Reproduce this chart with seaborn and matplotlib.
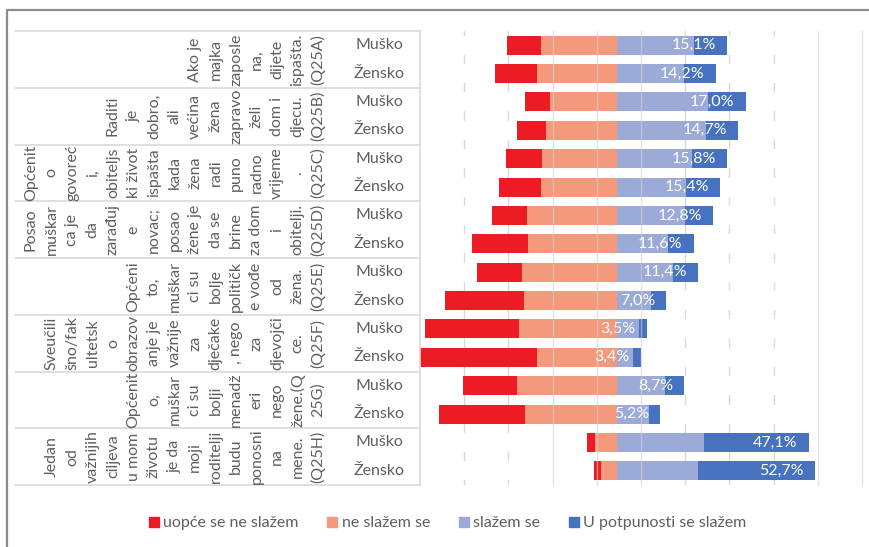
import numpy as np
import pandas as pd
import matplotlib
matplotlib.use("Agg")
import matplotlib.pyplot as plt
from matplotlib.lines import Line2D
import seaborn as sns

q_codes = ["Q25A", "Q25B", "Q25C", "Q25D", "Q25E", "Q25F", "Q25G", "Q25H"]
genders = ["Muško", "Žensko"]
q_lines = [
    ["Ako je", "majka", "zaposle", "na,", "dijete", "ispašta.", "(Q25A)"],
    ["Raditi", "je", "dobro,", "ali", "većina", "žena", "zapravo", "želi", "dom i", "djecu.", "(Q25B)"],
    ["Općenit", "o", "govoreć", "i,", "obiteljs", "ki život", "ispašta", "kada", "žena", "radi",
     "puno", "radno", "vrijeme", ".", "(Q25C)"],
    ["Posao", "muškar", "ca je", "da", "zarađuj", "e", "novac;", "posao", "žene je", "da se",
     "brine", "za dom", "i", "obitelji.", "(Q25D)"],
    ["Općeni", "to,", "muškar", "ci su", "bolje", "političk", "e vođe", "od", "žena.", "(Q25E)"],
    ["Sveučili", "šno/fak", "ultetsk", "o", "obrazov", "anje je", "važnije", "za", "dječake",
     ", nego", "za", "djevojči", "ce.", "(Q25F)"],
    ["Općenit", "o,", "muškar", "ci su", "bolji", "menadž", "eri", "nego", "žene.(Q", "25G)"],
    ["Jedan", "od", "važnijih", "ciljeva", "u mom", "životu", "je da", "moji", "roditelji",
     "budu", "ponosni", "na", "mene.", "(Q25H)"],
]

series = ["uopće se ne slažem", "ne slažem se", "slažem se", "U potpunosti se slažem"]
uopce = [15.5, 19.0, 11.5, 13.0, 16.4, 19.0, 15.8, 25.2, 20.5, 35.6, 42.4, 53.0, 24.4, 39.1, 3.5, 3.3]
ne_slazem = [34.2, 36.0, 30.2, 32.0, 33.8, 34.2, 40.6, 40.1, 42.8, 41.9, 44.2, 36.0, 45.1, 41.3, 9.8, 7.1]
slazem = [35.0, 30.6, 41.3, 40.3, 34.1, 31.4, 30.9, 23.2, 25.5, 15.5, 10.1, 7.4, 21.9, 14.6, 39.7, 37.0]
potpuno = [15.1, 14.2, 17.0, 14.7, 15.8, 15.4, 12.8, 11.6, 11.4, 7.0, 3.5, 3.4, 8.7, 5.2, 47.1, 52.7]

colors = ["#ED1C24", "#F4997B", "#9BAAD6", "#4672C0"]
grey_txt = "#5F5F5F"

sns.set_style("white")
plt.rcParams["font.family"] = ["Lato", "DejaVu Sans"]
plt.rcParams["font.size"] = 11.5

rows = [f"{q} {g}" for q in q_codes for g in genders]
center = 89.0
df = pd.DataFrame({
    "row": rows,
    "uopce": uopce, "ne": ne_slazem, "slazem": slazem, "potpuno": potpuno,
})
df["end_dark"] = center + df["slazem"] + df["potpuno"]
df["end_light"] = center + df["slazem"]
df["end_salmon"] = center
df["end_red"] = center - df["ne"]
df["start_red"] = center - df["ne"] - df["uopce"]
df["full"] = 200.0

W, H = 870, 547
fig = plt.figure(figsize=(W / 100, H / 100), dpi=100)
top_px, bot_px, left_px, right_px = 31, 485, 420, 862
ax = fig.add_axes([left_px / W, 1 - bot_px / H, (right_px - left_px) / W, (bot_px - top_px) / H])

grid_color = "#D9D9D9"
# gridlines hidden behind the white offset bars
for g in [20, 40, 120, 140, 160]:
    ax.axvline(g, color=grid_color, lw=1.0, zorder=0)

bar_w = 0.67
layers = [("full", "white"), ("end_dark", colors[3]), ("end_light", colors[2]),
          ("end_salmon", colors[1]), ("end_red", colors[0]), ("start_red", "white")]
for col, c in layers:
    sns.barplot(data=df, x=col, y="row", order=rows, orient="y", color=c, saturation=1,
                width=bar_w, linewidth=0, ax=ax, zorder=2)

for g in [60, 80, 100, 180, 200]:
    ax.axvline(g, color="#CFCFCF", lw=1.0, alpha=0.6, zorder=3, clip_on=False)

for i, r in df.iterrows():
    ax.annotate(f"{r['potpuno']:.1f}%".replace(".", ","), xy=(r["end_dark"], i),
                xytext=(-8, 0), textcoords="offset points", ha="right", va="center",
                color="white", fontsize=11.5, zorder=4)

ax.set_xlim(0, 200)
ax.set_ylim(len(rows) - 0.5, -0.5)
ax.set_xlabel("")
ax.set_ylabel("")
ax.set_xticks([])
ax.set_yticks([])
for s in ax.spines.values():
    s.set_visible(False)

# category table on the left
tab = fig.add_axes([0, 1 - bot_px / H, left_px / W, (bot_px - top_px) / H])
tab.set_xlim(0, left_px)
tab.set_ylim(len(rows) - 0.5, -0.5)
tab.axis("off")
line_c = "#D9D9D9"
for k in range(len(q_codes) + 1):
    tab.plot([15, left_px], [2 * k - 0.5, 2 * k - 0.5], color=line_c, lw=1.2, clip_on=False)
tab.plot([left_px - 0.5, left_px - 0.5], [-0.5, len(rows) - 0.5], color=line_c, lw=1.2, clip_on=False)

last_x, step = 318, 20.5
for k, lines in enumerate(q_lines):
    yc = 2 * k + 0.5
    n = len(lines)
    for j, t in enumerate(lines):
        tab.text(last_x - (n - 1 - j) * step, yc, t, rotation=90, ha="center", va="center",
                 color=grey_txt, fontsize=11.5, clip_on=False)
    for gi, g in enumerate(genders):
        tab.text(379, 2 * k + gi, g, ha="center", va="center", color=grey_txt, fontsize=11.5)

# outer frame
fig.add_artist(Line2D([7 / W, 1], [1 - 10 / H, 1 - 10 / H], color="#8C8C8C", lw=1.6,
                      transform=fig.transFigure))
fig.add_artist(Line2D([7 / W, 7 / W], [0, 1 - 10 / H], color="#8C8C8C", lw=1.6,
                      transform=fig.transFigure))

handles = [Line2D([], [], marker="s", linestyle="none", markersize=7, color=c) for c in colors]
leg = fig.legend(handles, series, loc="center", bbox_to_anchor=(446 / W, 1 - 523 / H), ncol=4,
                 frameon=False, handletextpad=0.1, columnspacing=1.6, handlelength=1.0,
                 fontsize=11.5)
for t in leg.get_texts():
    t.set_color(grey_txt)

fig.savefig("out.png", dpi=100)
